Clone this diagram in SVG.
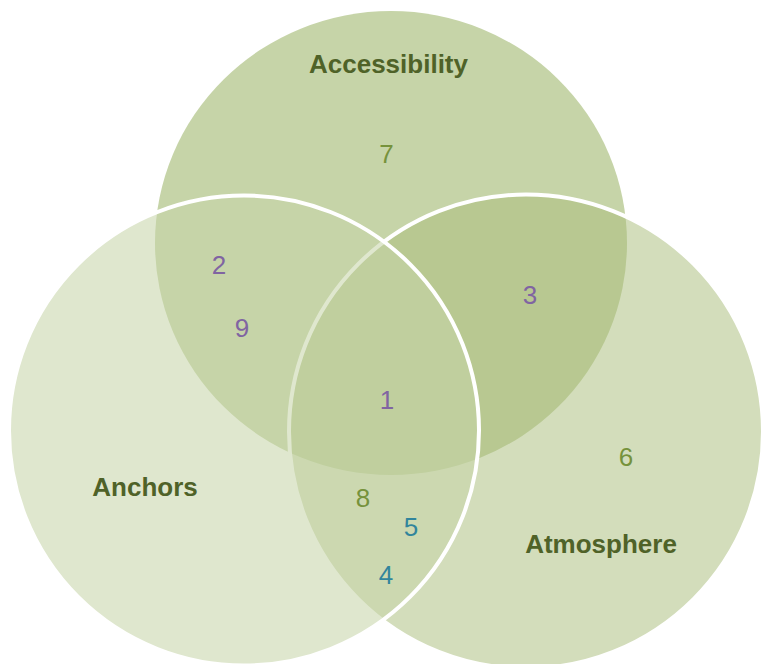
<svg xmlns="http://www.w3.org/2000/svg" width="761" height="664" viewBox="0 0 761 664">
  <style>
    .label { font-family: "Liberation Sans", Arial, sans-serif; font-size: 26px; font-weight: bold; fill: #4f6228; text-anchor: middle; }
    .num { font-family: "Liberation Sans", Arial, sans-serif; font-size: 26px; text-anchor: middle; }
    .olive { fill: #76923c; }
    .purple { fill: #8064a2; }
    .teal { fill: #31859c; }
    .ring { stroke: #ffffff; stroke-width: 4; }
  </style>
  <rect width="761" height="664" fill="#ffffff"/>

  <!-- Accessibility: base set, drawn first -->
  <g id="accessibility">
    <ellipse cx="391" cy="243" rx="236" ry="232" fill="#c6d4a8"/>
    <text class="label" x="388.5" y="73">Accessibility</text>
  </g>

  <!-- Atmosphere: translucent fill with white outline -->
  <g id="atmosphere">
    <circle class="ring" cx="526" cy="431.5" r="237" fill="rgba(170,190,124,0.52)"/>
    <text class="label" x="601" y="553">Atmosphere</text>
  </g>

  <!-- Anchors: translucent fill with white outline, on top -->
  <g id="anchors">
    <circle class="ring" cx="244" cy="430.5" r="235" fill="rgba(198,212,168,0.56)"/>
    <text class="label" x="145" y="496">Anchors</text>
  </g>

  <!-- Item numbers placed in the regions -->
  <g id="items">
    <text class="num olive" x="386.5" y="163">7</text>
    <text class="num purple" x="219" y="274">2</text>
    <text class="num purple" x="242" y="337">9</text>
    <text class="num purple" x="530" y="304">3</text>
    <text class="num purple" x="387" y="409">1</text>
    <text class="num olive" x="626" y="466">6</text>
    <text class="num olive" x="363" y="507">8</text>
    <text class="num teal" x="411" y="536">5</text>
    <text class="num teal" x="386" y="584">4</text>
  </g>
</svg>
